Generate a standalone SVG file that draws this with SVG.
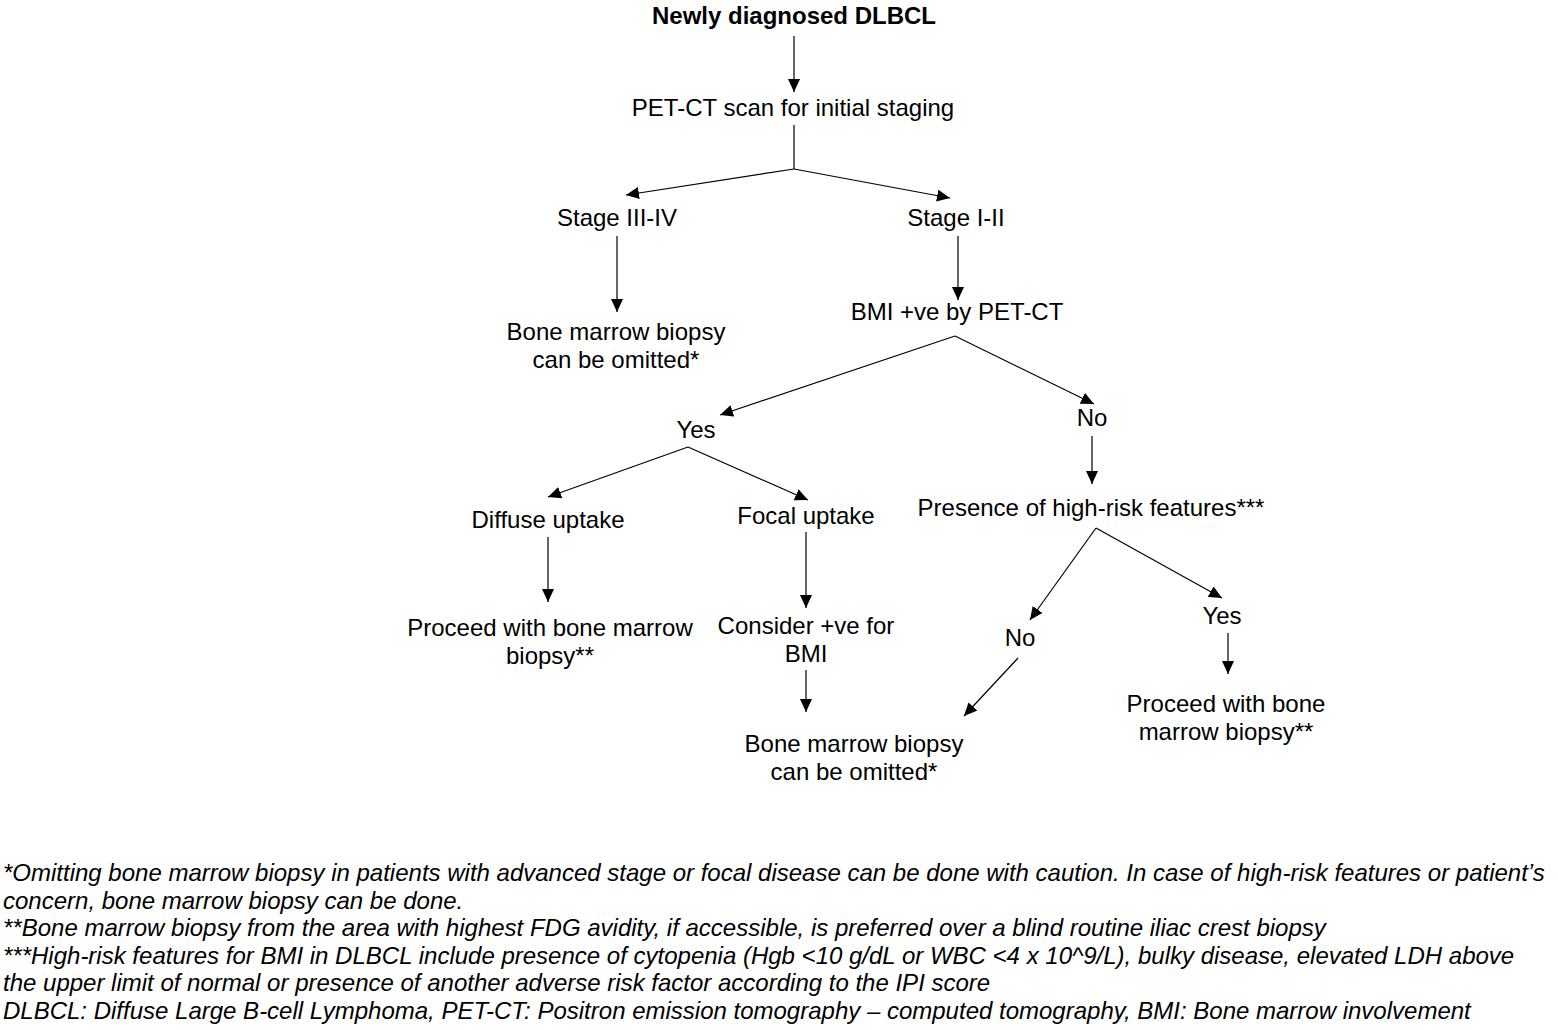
<svg xmlns="http://www.w3.org/2000/svg" width="1558" height="1030" viewBox="0 0 1558 1030">
<style>
.t{font-family:"Liberation Sans",Arial,sans-serif;font-size:24px;fill:#000;text-anchor:middle}
.b{font-weight:bold}
.f{font-family:"Liberation Sans",Arial,sans-serif;font-size:24px;font-style:italic;fill:#000}
.c{stroke:#000;stroke-width:1.2;fill:none;marker-end:url(#ah)}
</style>
<defs>
<marker id="ah" markerUnits="userSpaceOnUse" markerWidth="14" markerHeight="12" refX="13" refY="6" orient="auto">
<path d="M0,0 L13,6 L0,12 z" fill="#000"/>
</marker>
</defs>
<rect width="1558" height="1030" fill="#fff"/>
<g id="connectors">
<path class="c" d="M794,36 L794,92"/>
<path d="M794,125 L794,169" stroke="#000" stroke-width="1.2" fill="none"/>
<path class="c" d="M794,169 L626,195"/>
<path class="c" d="M794,169 L950,198"/>
<path class="c" d="M617,236 L617,312"/>
<path class="c" d="M958,236 L958,300"/>
<path class="c" d="M955,336 L720,415"/>
<path class="c" d="M955,336 L1094,404"/>
<path class="c" d="M688,447 L548,497"/>
<path class="c" d="M688,447 L808,500"/>
<path class="c" d="M548,537 L548,602"/>
<path class="c" d="M806,532 L806,608"/>
<path class="c" d="M806,670 L806,712"/>
<path class="c" d="M1092,436 L1092,484"/>
<path class="c" d="M1096,528 L1030,620"/>
<path class="c" d="M1096,528 L1222,598"/>
<path class="c" d="M1228,633 L1228,674"/>
<path class="c" d="M1018,658 L964,716"/>
</g>
<g id="n-newly"><text class="t b" x="794" y="24">Newly diagnosed DLBCL</text></g>
<g id="n-petct"><text class="t" x="793" y="116">PET-CT scan for initial staging</text></g>
<g id="n-stage34"><text class="t" x="617" y="226">Stage III-IV</text></g>
<g id="n-stage12"><text class="t" x="956" y="226">Stage I-II</text></g>
<g id="n-omit1"><text class="t" x="616" y="340">Bone marrow biopsy</text><text class="t" x="616" y="368">can be omitted*</text></g>
<g id="n-bmi"><text class="t" x="957" y="320">BMI +ve by PET-CT</text></g>
<g id="n-yes1"><text class="t" x="696" y="438">Yes</text></g>
<g id="n-no1"><text class="t" x="1092" y="426">No</text></g>
<g id="n-diffuse"><text class="t" x="548" y="528">Diffuse uptake</text></g>
<g id="n-focal"><text class="t" x="806" y="524">Focal uptake</text></g>
<g id="n-proceed1"><text class="t" x="550" y="636">Proceed with bone marrow</text><text class="t" x="550" y="664">biopsy**</text></g>
<g id="n-consider"><text class="t" x="806" y="634">Consider +ve for</text><text class="t" x="806" y="662">BMI</text></g>
<g id="n-omit2"><text class="t" x="854" y="752">Bone marrow biopsy</text><text class="t" x="854" y="780">can be omitted*</text></g>
<g id="n-highrisk"><text class="t" x="1091" y="516">Presence of high-risk features***</text></g>
<g id="n-no2"><text class="t" x="1020" y="646">No</text></g>
<g id="n-yes2"><text class="t" x="1222" y="624">Yes</text></g>
<g id="n-proceed2"><text class="t" x="1226" y="712">Proceed with bone</text><text class="t" x="1226" y="740">marrow biopsy**</text></g>
<g id="footnotes">
<text class="f" x="3" y="881">*Omitting bone marrow biopsy in patients with advanced stage or focal disease can be done with caution. In case of high-risk features or patient’s</text>
<text class="f" x="3" y="909">concern, bone marrow biopsy can be done.</text>
<text class="f" x="3" y="936">**Bone marrow biopsy from the area with highest FDG avidity, if accessible, is preferred over a blind routine iliac crest biopsy</text>
<text class="f" x="3" y="964">***High-risk features for BMI in DLBCL include presence of cytopenia (Hgb &lt;10 g/dL or WBC &lt;4 x 10^9/L), bulky disease, elevated LDH above</text>
<text class="f" x="3" y="991">the upper limit of normal or presence of another adverse risk factor according to the IPI score</text>
<text class="f" x="3" y="1019">DLBCL: Diffuse Large B-cell Lymphoma, PET-CT: Positron emission tomography – computed tomography, BMI: Bone marrow involvement</text>
</g>
</svg>
